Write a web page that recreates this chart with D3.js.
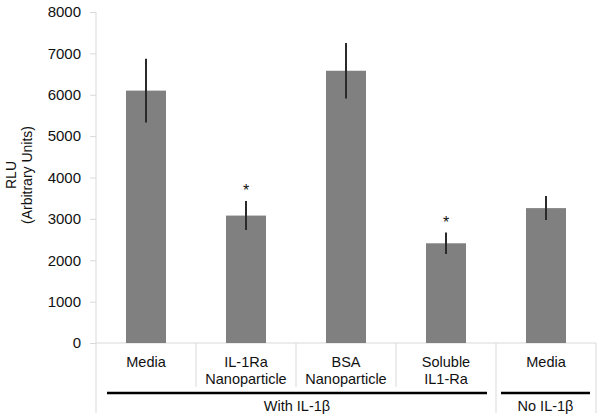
<!DOCTYPE html>
<html>
<head>
<meta charset="utf-8">
<script src="https://cdn.jsdelivr.net/npm/d3@7"></script>
<style>
  body { margin: 0; background: #fff; }
  svg { font-family: "Liberation Sans", Arial, sans-serif; }
</style>
</head>
<body>
<svg width="601" height="420"></svg>
<script>
// values
const labels = [["Media"], ["IL-1Ra", "Nanoparticle"], ["BSA", "Nanoparticle"], ["Soluble", "IL1-Ra"], ["Media"]];
const values = [6100, 3080, 6580, 2410, 3260];
const errors = [770, 350, 670, 260, 290];
const significant = [false, true, false, true, false];
const groupNames = ["With IL-1\u03b2", "No IL-1\u03b2"];
const groupFirst = [0, 4];
const groupLast = [3, 4];
const yTicks = [0, 1000, 2000, 3000, 4000, 5000, 6000, 7000, 8000];

const svg = d3.select("svg");
const plotLeft = 96, plotRight = 596, plotTop = 12, plotBottom = 343;

const x = d3.scaleBand().domain(d3.range(values.length)).range([plotLeft, plotRight])
  .paddingInner(0.6).paddingOuter(0.3);
const y = d3.scaleLinear().domain([0, 8000]).range([plotBottom, plotTop]);

// y axis
const yAxis = svg.append("g")
  .attr("transform", `translate(${plotLeft},0)`)
  .call(d3.axisLeft(y).tickValues(yTicks).tickFormat(d3.format("d")).tickSize(6).tickPadding(9));
yAxis.select(".domain").remove();
yAxis.selectAll(".tick line").attr("stroke", "#d9d9d9");
yAxis.selectAll(".tick text").attr("font-size", 15).attr("fill", "#111")
  .attr("font-family", "Liberation Sans, Arial, sans-serif");

// axis frame lines
const step = x.step();
const edge = i => plotLeft + i * step;
svg.append("line").attr("x1", plotLeft).attr("x2", plotLeft).attr("y1", plotTop).attr("y2", 413)
  .attr("stroke", "#d9d9d9");
svg.append("line").attr("x1", plotLeft).attr("x2", plotRight).attr("y1", plotBottom).attr("y2", plotBottom)
  .attr("stroke", "#d9d9d9");
const groupEdges = new Set(groupFirst.map(edge).concat(groupLast.map(i => edge(i + 1))));
svg.selectAll(".sep").data(d3.range(1, values.length + 1)).enter().append("line")
  .attr("x1", i => edge(i)).attr("x2", i => edge(i))
  .attr("y1", plotBottom).attr("y2", i => groupEdges.has(edge(i)) ? 413 : 387)
  .attr("stroke", "#d9d9d9");

// bars
svg.selectAll(".bar").data(values).enter().append("rect")
  .attr("x", (d, i) => x(i)).attr("width", x.bandwidth())
  .attr("y", d => y(d)).attr("height", d => plotBottom - y(d))
  .attr("fill", "#808080");

// error bars
svg.selectAll(".err").data(values).enter().append("line")
  .attr("x1", (d, i) => x(i) + x.bandwidth() / 2).attr("x2", (d, i) => x(i) + x.bandwidth() / 2)
  .attr("y1", (d, i) => y(d + errors[i])).attr("y2", (d, i) => y(d - errors[i]))
  .attr("stroke", "#2a2a2a").attr("stroke-width", 2);

// significance stars
svg.selectAll(".star").data(values.map((d, i) => i).filter(i => significant[i])).enter().append("text")
  .attr("x", i => x(i) + x.bandwidth() / 2)
  .attr("y", i => y(values[i] + errors[i]) - 5)
  .attr("text-anchor", "middle").attr("font-size", 16).attr("fill", "#111").text("*");

// category labels
const cat = svg.selectAll(".cat").data(labels).enter().append("text")
  .attr("text-anchor", "middle").attr("font-size", 14.5).attr("fill", "#111");
cat.selectAll("tspan").data((d, i) => d.map(t => ({ t, i }))).enter().append("tspan")
  .attr("x", d => x(d.i) + x.bandwidth() / 2)
  .attr("y", (d, j) => 367 + j * 17)
  .text(d => d.t);

// group underlines and names
groupNames.forEach((g, k) => {
  const x0 = edge(groupFirst[k]) + (k === 0 ? 11 : 5);
  const x1 = edge(groupLast[k] + 1) - (k === 0 ? 9 : 6);
  svg.append("line").attr("x1", x0).attr("x2", x1).attr("y1", 393).attr("y2", 393)
    .attr("stroke", "#000").attr("stroke-width", 2.5);
  svg.append("text").attr("x", (x0 + x1) / 2).attr("y", 411)
    .attr("text-anchor", "middle").attr("font-size", 14.5).attr("fill", "#111").text(g);
});

// y axis title
const title = svg.append("text").attr("transform", "translate(16,175) rotate(-90)")
  .attr("text-anchor", "middle").attr("font-size", 14).attr("fill", "#111");
title.append("tspan").attr("x", 0).attr("y", 0).text("RLU");
title.append("tspan").attr("x", 0).attr("y", 16).text("(Arbitrary Units)");
</script>
</body>
</html>
